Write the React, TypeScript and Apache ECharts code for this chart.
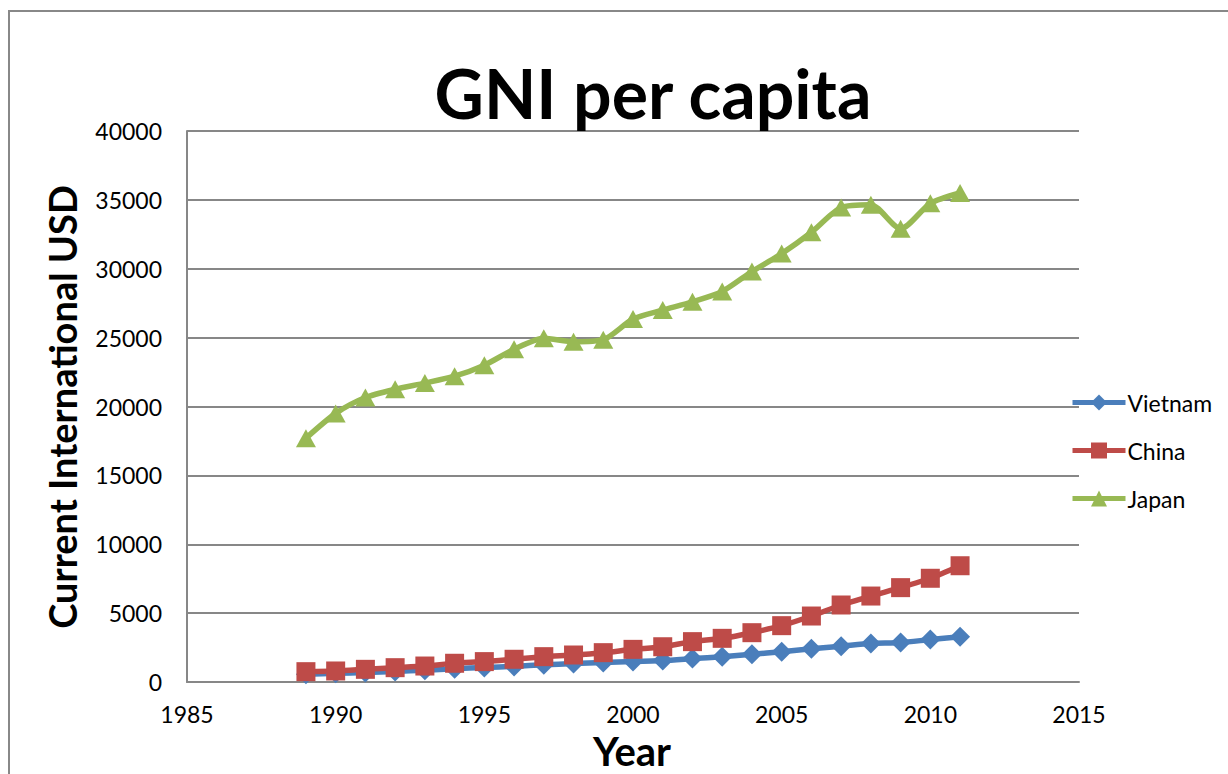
import React, { useEffect, useRef } from "react";
import * as echarts from "echarts";

const years = [1989, 1990, 1991, 1992, 1993, 1994, 1995, 1996, 1997, 1998, 1999, 2000, 2001, 2002, 2003, 2004, 2005, 2006, 2007, 2008, 2009, 2010, 2011];
const vietnam = [560, 630, 690, 760, 860, 960, 1060, 1130, 1250, 1340, 1420, 1480, 1560, 1700, 1840, 2010, 2200, 2420, 2600, 2790, 2860, 3080, 3280];
const china = [750, 800, 920, 1040, 1160, 1360, 1480, 1650, 1840, 1960, 2130, 2370, 2560, 2930, 3170, 3580, 4090, 4790, 5590, 6240, 6850, 7530, 8440];
const japan = [17700, 19500, 20650, 21250, 21700, 22200, 23000, 24150, 24950, 24700, 24850, 26350, 27000, 27600, 28350, 29800, 31100, 32650, 34450, 34650, 32900, 34750, 35500];

const titleText = "GNI per capita";
const xTitle = "Year";
const yTitle = "Current International USD";

const font = "Lato, 'Noto Sans', sans-serif";

export default function App() {
  const ref = useRef<HTMLDivElement>(null);
  useEffect(() => {
    const chart = echarts.init(ref.current!, undefined, { renderer: "svg" });
    const pair = (arr: number[]) => years.map((y, i) => [y, arr[i]]);
    const mk = (name: string, data: number[], color: string, symbol: string, size: number | number[]) => ({
      name,
      type: "line",
      data: pair(data),
      smooth: 0.25,
      symbol,
      symbolSize: size,
      showSymbol: true,
      lineStyle: { color, width: 5.5 },
      itemStyle: { color },
      z: 3,
    });
    chart.setOption({
      animation: false,
      backgroundColor: "#fff",
      textStyle: { fontFamily: font },
      title: {
        text: titleText,
        left: 648,
        top: 53,
        textAlign: "center",
        textStyle: { fontSize: 68, fontWeight: "bold", color: "#000", fontFamily: font },
      },
      legend: {
        orient: "vertical",
        left: 1065,
        top: 386,
        itemGap: 25,
        itemWidth: 53,
        itemHeight: 20,
        lineStyle: { width: 5 },
        textStyle: { fontSize: 23, color: "#000", fontFamily: font, padding: [0, 0, 0, -3] },
        data: ["Vietnam", "China", "Japan"],
      },
      grid: { left: 187, right: 149, top: 131, bottom: 92, containLabel: false },
      xAxis: {
        type: "value",
        min: 1985,
        max: 2015,
        interval: 5,
        axisLine: { show: true, lineStyle: { color: "#878787", width: 2 } },
        axisTick: { show: false },
        splitLine: { show: false },
        axisLabel: { fontSize: 23, color: "#000", margin: 20, fontFamily: font, formatter: (v: number) => String(v) },
      },
      yAxis: {
        type: "value",
        min: 0,
        max: 40000,
        interval: 5000,
        axisLine: { show: true, lineStyle: { color: "#878787", width: 2 } },
        axisTick: { show: false },
        splitLine: { show: true, lineStyle: { color: "#878787", width: 2 } },
        axisLabel: { fontSize: 23, color: "#000", margin: 25, fontFamily: font, formatter: (v: number) => String(v) },
      },
      graphic: [
        {
          type: "rect",
          shape: { x: 9, y: 11, width: 1400, height: 900 },
          style: { fill: "none", stroke: "#888", lineWidth: 2 },
          silent: true,
        },
        {
          type: "text",
          x: 632,
          y: 751,
          style: { text: xTitle, fontSize: 40, fontWeight: "bold", fill: "#000", fontFamily: font, textAlign: "center", textVerticalAlign: "middle" },
        },
        {
          type: "text",
          x: 62,
          y: 407,
          rotation: Math.PI / 2,
          style: { text: yTitle, fontSize: 38, fontWeight: "bold", fill: "#000", fontFamily: font, textAlign: "center", textVerticalAlign: "middle" },
        },
      ],
      series: [
        mk("Vietnam", vietnam, "#4A7EBB", "diamond", [20, 20]),
        mk("China", china, "#BE4B48", "rect", [19, 19]),
        mk("Japan", japan, "#98B954", "triangle", [20, 18]),
      ],
    });
    return () => chart.dispose();
  }, []);
  return (
    <div
      ref={ref}
      style={{ position: "absolute", left: 0, top: 0, width: 1228, height: 774 }}
    />
  );
}
